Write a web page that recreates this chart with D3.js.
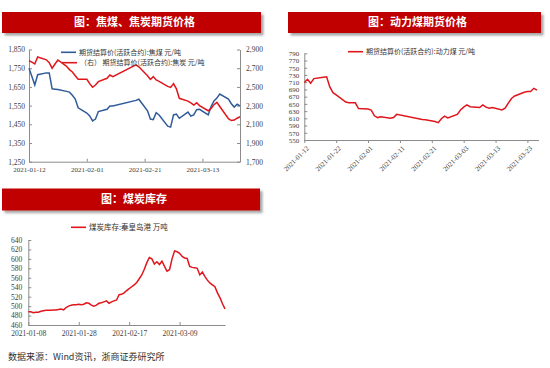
<!DOCTYPE html>
<html>
<head>
<meta charset="utf-8">
<script src="https://cdn.jsdelivr.net/npm/d3@7"></script>
<style>
  body { margin: 0; background: #fff; }
</style>
</head>
<body>
<svg id="chart" width="550" height="368"></svg>
<script>
// trading days shared by the futures charts
var tradeDays = ["2021-01-12","2021-01-13","2021-01-14","2021-01-15","2021-01-18","2021-01-19","2021-01-20","2021-01-21","2021-01-22",
  "2021-01-25","2021-01-26","2021-01-27","2021-01-28","2021-01-29","2021-02-01","2021-02-02","2021-02-03","2021-02-04","2021-02-05",
  "2021-02-08","2021-02-09","2021-02-10","2021-02-18","2021-02-19","2021-02-22","2021-02-23","2021-02-24","2021-02-25","2021-02-26",
  "2021-03-01","2021-03-02","2021-03-03","2021-03-04","2021-03-05","2021-03-08","2021-03-09","2021-03-10","2021-03-11","2021-03-12",
  "2021-03-15","2021-03-16","2021-03-17","2021-03-18","2021-03-19","2021-03-22","2021-03-23","2021-03-24","2021-03-25","2021-03-26"];

// 焦煤 (left axis)
var cokingCoal = [1750,1705,1660,1715,1725,1725,1640,1638,1636,1626,1622,1605,1585,1538,1510,1495,1468,1478,1518,
  1530,1548,1548,1578,1584,1522,1478,1475,1512,1500,1440,1435,1500,1505,1482,1515,1494,1500,1528,1530,
  1500,1545,1575,1590,1612,1585,1560,1542,1557,1548];
// 焦炭 (right axis)
var coke = [2780,2765,2745,2820,2790,2760,2700,2745,2788,2720,2685,2660,2620,2581,2581,2535,2496,2520,2556,
  2592,2627,2610,2735,2715,2620,2580,2610,2575,2560,2505,2495,2535,2480,2378,2348,2330,2305,2330,2300,
  2245,2270,2310,2335,2290,2160,2140,2145,2165,2181];
// 动力煤
var thermalCoal = [709,718,707,720,724,725,697,681,675,655,653,653,653,637,636,633,617,612,614,
  610,612,621,607,606,601,598,609,616,611,621,633,641,647,642,640,647,641,638,640,
  633,638,652,665,672,682,684,684,693,688];

// 秦皇岛港库存, daily from stockStart
var stockStart = "2021-01-08";
var qhdStock = [488,488,486,487,487,489,490,491,491,491,
  492,492,493,494,492,497,500,502,503,503,
  504,503,504,507,506,502,500,502,506,507,
  509,511,506,509,511,513,524,525,528,533,
  537,541,545,550,558,566,578,592,603,600,
  589,594,588,595,584,574,577,600,617,615,
  612,605,602,601,584,582,581,580,566,572,
  563,555,549,545,541,528,518,505,494];

var tlLeftTicks = [1250,1350,1450,1550,1650,1750,1850];
var tlRightTicks = [1700,1900,2100,2300,2500,2700,2900];
var tlDateTicks = ["2021-01-12","2021-02-01","2021-02-21","2021-03-13"];
var trValueTicks = [550,570,590,610,630,650,670,690,710,730,750,770,790];
var trDateTicks = ["2021-01-12","2021-01-22","2021-02-01","2021-02-11","2021-02-21","2021-03-03","2021-03-13","2021-03-23"];
var blValueTicks = [460,480,500,520,540,560,580,600,620,640];
var blDateTicks = ["2021-01-08","2021-01-28","2021-02-17","2021-03-09"];

var cjk = '"Noto Sans CJK SC", sans-serif';
var serif = '"Liberation Serif", "Times New Roman", serif';
var axisColor = "#8c8c8c", labelColor = "#404040";
var blue = "#2f5b98", red = "#e0161c";

var parseDay = d3.timeParse("%Y-%m-%d");
var fmtDay = d3.timeFormat("%Y-%m-%d");
var svg = d3.select("#chart");

svg.append("defs").append("filter").attr("id", "shadow")
  .attr("x", "-5%").attr("y", "-30%").attr("width", "115%").attr("height", "180%")
  .append("feDropShadow").attr("dx", 2.5).attr("dy", 2.5).attr("stdDeviation", 1.3)
  .attr("flood-color", "#000").attr("flood-opacity", 0.35);

function drawBanner(x, y, w, h, title) {
  svg.append("rect").attr("x", x).attr("y", y).attr("width", w).attr("height", h)
    .attr("fill", "#c00000").attr("filter", "url(#shadow)");
  svg.append("text").attr("x", x + w / 2 + 3).attr("y", y + h / 2).attr("dy", "0.36em")
    .attr("text-anchor", "middle").attr("fill", "#fff")
    .style("font-family", cjk).style("font-size", "11px").style("font-weight", "bold")
    .text(title);
}

function styleAxis(g, size) {
  g.attr("font-family", null).attr("font-size", null);
  g.select(".domain").attr("stroke", axisColor);
  g.selectAll(".tick line").attr("stroke", axisColor);
  g.selectAll(".tick text").attr("fill", labelColor)
    .style("font-family", serif).style("font-size", size + "px");
}

function legendItem(x, y, color, label, size) {
  svg.append("line").attr("x1", x).attr("x2", x + 15).attr("y1", y).attr("y2", y)
    .attr("stroke", color).attr("stroke-width", 1.6);
  svg.append("text").attr("x", x + 18).attr("y", y).attr("dy", "0.35em").attr("fill", "#333")
    .style("font-family", cjk).style("font-size", size + "px").text(label);
}

var tradeDates = tradeDays.map(parseDay);

// ---- top left: 焦煤、焦炭
drawBanner(2, 12, 259, 21, "图：焦煤、焦炭期货价格");
var tl = {left: 29, right: 240, top: 49.5, bottom: 161.7};
var xTL = d3.scaleTime().domain([tradeDates[0], tradeDates[tradeDates.length - 1]]).range([tl.left, tl.right]);
var yTL = d3.scaleLinear().domain([1250, 1850]).range([tl.bottom, tl.top]);
var yTR2 = d3.scaleLinear().domain([1700, 2900]).range([tl.bottom, tl.top]);

svg.append("g").attr("transform", "translate(" + tl.left + ",0)")
  .call(d3.axisLeft(yTL).tickValues(tlLeftTicks).tickFormat(d3.format(",")).tickSizeInner(-3).tickSizeOuter(0).tickPadding(4))
  .call(styleAxis, 7.5);
svg.append("g").attr("transform", "translate(" + tl.right + ",0)")
  .call(d3.axisRight(yTR2).tickValues(tlRightTicks).tickFormat(d3.format(",")).tickSizeInner(-3).tickSizeOuter(0).tickPadding(6))
  .call(styleAxis, 7.5);
svg.append("g").attr("transform", "translate(0," + tl.bottom + ")")
  .call(d3.axisBottom(xTL).tickValues(tlDateTicks.map(parseDay)).tickFormat(fmtDay).tickSizeInner(-3).tickSizeOuter(0).tickPadding(5))
  .call(styleAxis, 7);

svg.append("path").datum(cokingCoal).attr("fill", "none").attr("stroke", blue).attr("stroke-width", 1.5)
  .attr("d", d3.line().x(function(d, i) { return xTL(tradeDates[i]); }).y(function(d) { return yTL(d); }));
svg.append("path").datum(coke).attr("fill", "none").attr("stroke", red).attr("stroke-width", 1.5)
  .attr("d", d3.line().x(function(d, i) { return xTL(tradeDates[i]); }).y(function(d) { return yTR2(d); }));

legendItem(61, 52.3, blue, "期货结算价(活跃合约):焦煤  元/吨", 7);
legendItem(62, 62.7, red, "（右） 期货结算价(活跃合约):焦炭  元/吨", 7);

// ---- top right: 动力煤
drawBanner(288, 12, 253, 21, "图：动力煤期货价格");
var tr = {left: 304.3, right: 537, top: 53.3, bottom: 140};
var xTR = d3.scaleTime().domain([tradeDates[0], tradeDates[tradeDates.length - 1]]).range([tr.left, tr.right]);
var yTR = d3.scaleLinear().domain([550, 790]).range([tr.bottom, tr.top]);

svg.append("g").attr("transform", "translate(" + tr.left + ",0)")
  .call(d3.axisLeft(yTR).tickValues(trValueTicks).tickSizeInner(-3).tickSizeOuter(0).tickPadding(5))
  .call(styleAxis, 7);
var trX = svg.append("g").attr("transform", "translate(0," + tr.bottom + ")")
  .call(d3.axisBottom(xTR).tickValues(trDateTicks.map(parseDay)).tickFormat(fmtDay).tickSizeInner(3).tickSizeOuter(0))
  .call(styleAxis, 7);
trX.select(".domain").attr("d", "M" + tr.left + ",0.5H" + (tr.right + 2));
trX.selectAll(".tick text").attr("x", 0).attr("y", 0).attr("dy", "0.35em")
  .attr("text-anchor", "end").attr("transform", "translate(3,7) rotate(-45)");

svg.append("path").datum(thermalCoal).attr("fill", "none").attr("stroke", red).attr("stroke-width", 1.5)
  .attr("d", d3.line().x(function(d, i) { return xTR(tradeDates[i]); }).y(function(d) { return yTR(d); }));

legendItem(348, 51.7, red, "期货结算价(活跃合约):动力煤  元/吨", 7);

// ---- bottom left: 煤炭库存
drawBanner(2, 188.5, 258, 22, "图：煤炭库存");
var start = parseDay(stockStart);
var stockDates = qhdStock.map(function(d, i) { return d3.timeDay.offset(start, i); });
var bl = {left: 28.3, right: 225, top: 240, bottom: 325};
var xBL = d3.scaleTime().domain([stockDates[0], stockDates[stockDates.length - 1]]).range([bl.left, bl.right]);
var yBL = d3.scaleLinear().domain([460, 640]).range([bl.bottom, bl.top]);

svg.append("g").attr("transform", "translate(" + bl.left + ",0)")
  .call(d3.axisLeft(yBL).tickValues(blValueTicks).tickSizeInner(-3).tickSizeOuter(0).tickPadding(6))
  .call(styleAxis, 7.5);
svg.append("g").attr("transform", "translate(0," + bl.bottom + ")")
  .call(d3.axisBottom(xBL).tickValues(blDateTicks.map(parseDay)).tickFormat(fmtDay).tickSizeInner(-3).tickSizeOuter(0).tickPadding(6))
  .call(styleAxis, 7.5);

svg.append("path").datum(qhdStock).attr("fill", "none").attr("stroke", red).attr("stroke-width", 1.5)
  .attr("d", d3.line().x(function(d, i) { return xBL(stockDates[i]); }).y(function(d) { return yBL(d); }));

legendItem(71, 227.3, red, "煤炭库存:秦皇岛港  万吨", 7.5);

// source note
svg.append("text").attr("x", 8).attr("y", 356.7).attr("dy", "0.35em").attr("fill", "#333")
  .style("font-family", cjk).style("font-size", "9px")
  .text("数据来源：Wind资讯，浙商证券研究所");
</script>
</body>
</html>
